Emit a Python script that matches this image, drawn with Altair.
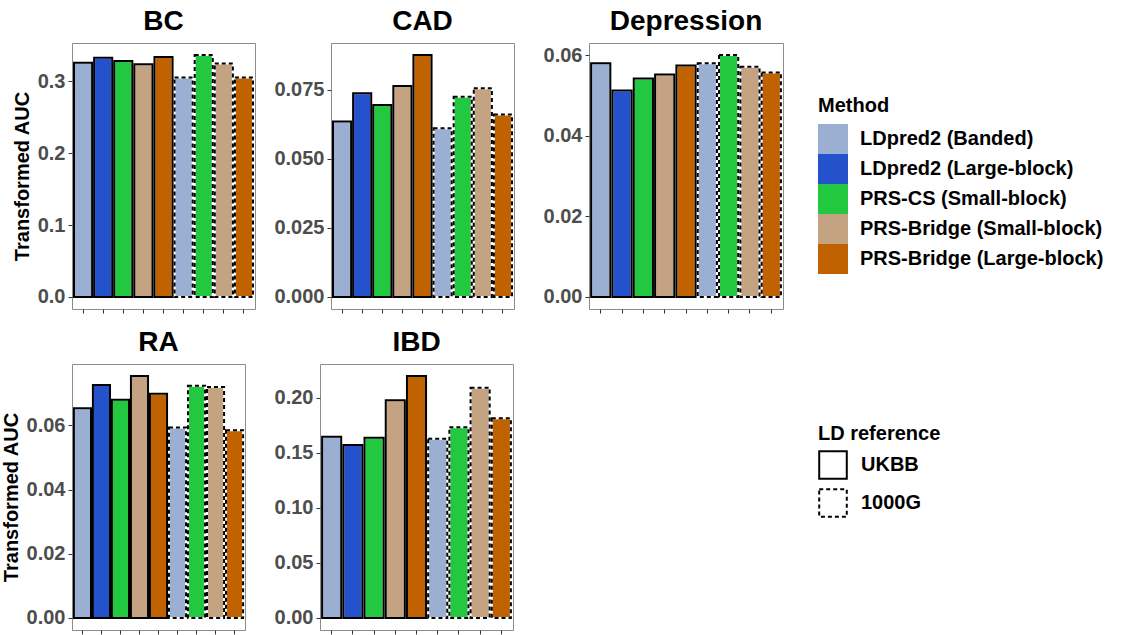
import altair as alt
import pandas as pd

# ---------------- data ----------------
methods = ["LDpred2 (Banded)", "LDpred2 (Large-block)", "PRS-CS (Small-block)",
           "PRS-Bridge (Small-block)", "PRS-Bridge (Large-block)"]
method_colors = ["#9BAFD3", "#2352CC", "#22C940", "#C3A381", "#C16200"]
ld_refs = ["UKBB", "1000G"]
methods_1000g = ["LDpred2 (Banded)", "PRS-CS (Small-block)",
                 "PRS-Bridge (Small-block)", "PRS-Bridge (Large-block)"]

diseases = ["BC", "CAD", "Depression", "RA", "IBD"]

ukbb_bc = [0.326, 0.333, 0.3285, 0.324, 0.334]
g1000_bc = [0.3055, 0.3367, 0.325, 0.3055]

ukbb_cad = [0.0635, 0.0738, 0.0695, 0.0764, 0.0876]
g1000_cad = [0.0611, 0.0725, 0.0756, 0.0661]

ukbb_dep = [0.0580, 0.0512, 0.0542, 0.0552, 0.0574]
g1000_dep = [0.0580, 0.0600, 0.0571, 0.0557]

ukbb_ra = [0.0654, 0.0726, 0.0680, 0.0754, 0.0699]
g1000_ra = [0.0594, 0.0724, 0.0720, 0.0585]

ukbb_ibd = [0.1646, 0.1571, 0.1637, 0.1979, 0.2198]
g1000_ibd = [0.1628, 0.1733, 0.2093, 0.1814]

ticks_bc = [0.0, 0.1, 0.2, 0.3]
ticks_cad = [0.0, 0.025, 0.05, 0.075]
ticks_dep = [0.0, 0.02, 0.04, 0.06]
ticks_ra = [0.0, 0.02, 0.04, 0.06]
ticks_ibd = [0.0, 0.05, 0.10, 0.15, 0.20]

FONT = "Liberation Sans"


def panel(name, ukbb, g1000, ticks, fmt, width, show_ytitle):
    rows = []
    order = []
    for m, v in zip(methods, ukbb):
        k = "UKBB|" + m
        order.append(k)
        rows.append({"key": k, "method": m, "ld": "UKBB", "value": v})
    for m, v in zip(methods_1000g, g1000):
        k = "1000G|" + m
        order.append(k)
        rows.append({"key": k, "method": m, "ld": "1000G", "value": v})
    df = pd.DataFrame(rows)
    ymax = float(df["value"].max())
    dom = [-0.05 * ymax, 1.05 * ymax]

    x = alt.X("key:N", sort=order,
              scale=alt.Scale(paddingInner=0.1, paddingOuter=0.1),
              axis=alt.Axis(labels=False, ticks=True, domain=False, title=None))
    if show_ytitle:
        yaxis = alt.Axis(values=ticks, format=fmt, title="Transformed AUC")
    else:
        yaxis = alt.Axis(values=ticks, format=fmt, title=None)
    y = alt.Y("value:Q", scale=alt.Scale(domain=dom, nice=False, zero=False), axis=yaxis)

    base = alt.Chart(df)
    fill = base.mark_bar(stroke="white", strokeWidth=2).encode(
        x=x, y=y, y2=alt.datum(0),
        color=alt.Color("method:N",
                        scale=alt.Scale(domain=methods, range=method_colors),
                        legend=alt.Legend(title="Method", orient="none",
                                          legendX=746, legendY=53,
                                          symbolType="square", symbolSize=900,
                                          symbolStrokeWidth=0, rowPadding=0,
                                          labelOffset=12, titlePadding=8,
                                          padding=0)),
    )
    outline = base.mark_bar(fill="transparent", stroke="black", strokeWidth=2).encode(
        x=x, y=alt.Y("value:Q"), y2=alt.datum(0),
        strokeDash=alt.StrokeDash("ld:N",
                                  scale=alt.Scale(domain=ld_refs, range=[[1, 0], [4, 3]]),
                                  legend=alt.Legend(title="LD reference", orient="none",
                                                    legendX=746, legendY=381,
                                                    symbolType="square", symbolSize=760,
                                                    symbolStrokeWidth=2,
                                                    symbolStrokeColor="black",
                                                    symbolFillColor="white",
                                                    rowPadding=2, labelOffset=13,
                                                    titlePadding=6, padding=0)),
    )
    return alt.layer(fill, outline).properties(
        width=width, height=266,
        title=alt.Title(name, fontSize=28, font=FONT, fontWeight="bold",
                        anchor="middle", offset=7, color="black"),
    )


bc = panel("BC", ukbb_bc, g1000_bc, ticks_bc, ".1f", 183, True)
cad = panel("CAD", ukbb_cad, g1000_cad, ticks_cad, ".3f", 183, False)
dep = panel("Depression", ukbb_dep, g1000_dep, ticks_dep, ".2f", 194, False)
ra = panel("RA", ukbb_ra, g1000_ra, ticks_ra, ".2f", 173, True)
ibd = panel("IBD", ukbb_ibd, g1000_ibd, ticks_ibd, ".2f", 193, False)

chart = alt.concat(bc, cad, dep, ra, ibd, columns=3, align="none",
                   spacing=alt.RowColnumber(row=14, column=17)).properties(
    padding={"left": 0, "top": 7, "right": 0, "bottom": 0},
    background="white",
).configure_view(
    stroke="#8C8C8C", strokeWidth=1
).configure_axis(
    grid=False, domain=False,
    labelFont=FONT, labelFontWeight="bold", labelFontSize=20, labelColor="#4D4D4D",
    labelPadding=3, tickColor="#333333", tickSize=4, tickWidth=1,
    titleFont=FONT, titleFontWeight="bold", titleFontSize=20, titleColor="black",
    titlePadding=5,
).configure_legend(
    labelFont=FONT, labelFontWeight="bold", labelFontSize=20, labelColor="black",
    titleFont=FONT, titleFontWeight="bold", titleFontSize=20, titleColor="black",
    labelLimit=400,
)

chart.save("out.html", embed_options={"renderer": "svg", "actions": False})
